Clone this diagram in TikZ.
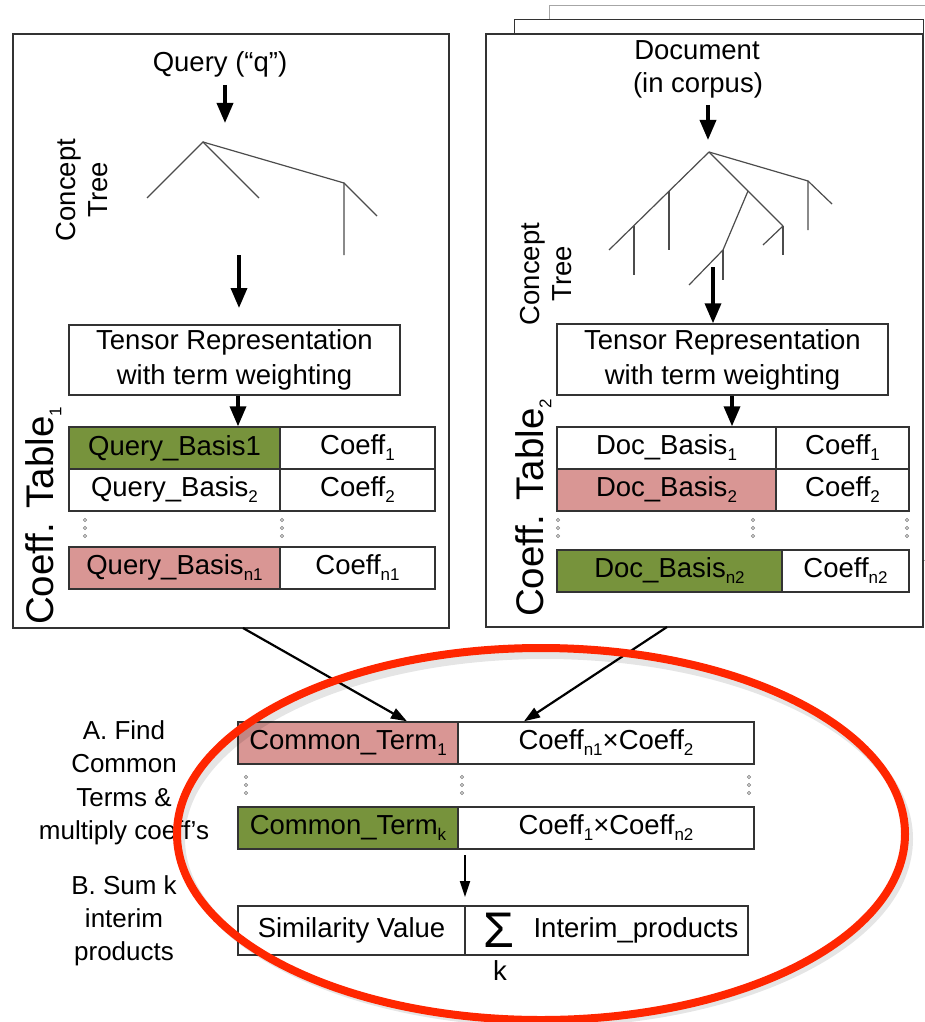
\documentclass[tikz,border=0pt]{standalone}
\usepackage{fontspec}
\setmainfont{Liberation Sans}
\usetikzlibrary{arrows.meta}
\definecolor{cellgreen}{HTML}{77933C}
\definecolor{cellpink}{HTML}{D99694}
\definecolor{ringred}{RGB}{255,38,0}
\definecolor{edgegray}{HTML}{333333}
% small lowered index used in the table cells
\newcommand{\sbs}[1]{\raisebox{-0.22em}{\fontsize{17}{17}\selectfont #1}}
\begin{document}
\begin{tikzpicture}[x=1pt,y=-1pt,
  font=\fontsize{27.5}{33}\selectfont,
  panel/.style={draw=edgegray, line width=1.5, fill=white},
  backpage/.style={draw=gray!70, line width=1, fill=white},
  cell/.style={draw=edgegray, line width=1.4, inner sep=0, anchor=center},
  label/.style={inner sep=0, anchor=base},
  flow/.style={-{Triangle[length=20,width=16]}, line width=3.5},
  link/.style={-{Triangle[length=16,width=11]}, line width=2.2},
  sumflow/.style={-{Triangle[length=16,width=10]}, line width=1.8},
  branch/.style={line width=1.2, draw=black!70},
  dotc/.style={draw=gray, line width=0.7},
  ring/.style={draw=ringred, line width=8}]
\useasboundingbox (0,0) rectangle (925,1022);
\fill[white] (0,0) rectangle (925,1022);

% ---------- stacked document pages ----------
\draw[backpage] (549,6) -- (940,6) -- (940,560) -- (549,560) -- cycle;
\draw[backpage, draw=edgegray] (514,20) -- (923,20) -- (923,590) -- (514,590) -- cycle;
\node[panel, minimum width=437, minimum height=593, inner sep=0] (rp) at (704.5,330.5) {};

% ---------- query panel ----------
\node[panel, minimum width=436, minimum height=594, inner sep=0] (lp) at (231,331) {};

% ---------- query side ----------
\node[label] (q) at (220,72) {Query (“q”)};
\coordinate (q1) at (225,85);
\coordinate (q2) at (225,123);
\draw[flow] (q1) -- (q2);

\coordinate (lr) at (203,142);
\draw[branch] (147,198) -- (lr) -- (259,198);
\draw[branch] (lr) -- (344,183) -- (344,255);
\draw[branch] (344,183) -- (377,216);

\node[rotate=90, align=center, font=\fontsize{27.5}{32}\selectfont] (lct) at (82,190) {Concept\\Tree};

\coordinate (la1) at (239,255);
\coordinate (la2) at (239,308);
\draw[flow] (la1) -- (la2);

\node[cell, minimum width=331, minimum height=70, align=center,
      font=\fontsize{27.5}{35}\selectfont] (tl) at (234.5,360)
      {Tensor Representation\\with term weighting};

\node[cell, fill=cellgreen, minimum width=211, minimum height=42] (qb1) at (174.5,448) {Query\_Basis1};
\node[cell, minimum width=155, minimum height=42] (qc1) at (357.5,448) {Coeff\sbs{1}};
\node[cell, minimum width=211, minimum height=42] (qb2) at (174.5,490) {Query\_Basis\sbs{2}};
\node[cell, minimum width=155, minimum height=42] (qc2) at (357.5,490) {Coeff\sbs{2}};
\node[cell, fill=cellpink, minimum width=211, minimum height=42] (qbn) at (174.5,568) {Query\_Basis\sbs{n1}};
\node[cell, minimum width=155, minimum height=42] (qcn) at (357.5,568) {Coeff\sbs{n1}};
\foreach \x in {85,282} \foreach \y in {520,528,536} \draw[dotc] (\x,\y) circle[radius=1.6];

\coordinate (ta) at (238,0);
\draw[flow] (tl.south -| ta) -- (qb1.north -| ta);

\node[rotate=90, anchor=base west, inner sep=0, font=\fontsize{38.5}{40}\selectfont] (lct1) at (53,625) {Coeff. Table\sbs{1}};

% ---------- document side ----------
\node[label] (d1) at (697,60) {Document};
\node[label] (d2) at (698,93) {(in corpus)};
\coordinate (d3) at (708,105);
\coordinate (d4) at (708,140);
\draw[flow] (d3) -- (d4);

\coordinate (rr) at (709,152);
\draw[branch] (rr) -- (609,250);
\draw[branch] (669,191) -- (669,250);
\draw[branch] (634,225.5) -- (634,275);
\draw[branch] (rr) -- (783,226);
\draw[branch] (748,191) -- (723,250) -- (689,285);
\draw[branch] (723,250) -- (723,280);
\draw[branch] (783,226) -- (763,245);
\draw[branch] (783,226) -- (783,255);
\draw[branch] (rr) -- (808,181) -- (808,230);
\draw[branch] (808,181) -- (832,204);

\node[rotate=90, align=center, font=\fontsize{27.5}{32}\selectfont] (rct) at (546,274) {Concept\\Tree};

\coordinate (ra1) at (713,267);
\node[cell, minimum width=331, minimum height=71, align=center,
      font=\fontsize{27.5}{35}\selectfont] (tr) at (722.5,359.5)
      {Tensor Representation\\with term weighting};
\draw[flow] (ra1) -- (tr.north -| ra1);

\node[cell, minimum width=219, minimum height=42] (db1) at (666.5,448) {Doc\_Basis\sbs{1}};
\node[cell, minimum width=133, minimum height=42] (dc1) at (842.5,448) {Coeff\sbs{1}};
\node[cell, fill=cellpink, minimum width=219, minimum height=42] (db2) at (666.5,490) {Doc\_Basis\sbs{2}};
\node[cell, minimum width=133, minimum height=42] (dc2) at (842.5,490) {Coeff\sbs{2}};
\node[cell, fill=cellgreen, minimum width=225, minimum height=42] (dbn) at (669.5,571) {Doc\_Basis\sbs{n2}};
\node[cell, minimum width=127, minimum height=42] (dcn) at (845.5,571) {Coeff\sbs{n2}};
\foreach \x in {558,753,907} \foreach \y in {520,528,536} \draw[dotc] (\x,\y) circle[radius=1.6];

\coordinate (tb) at (732,0);
\draw[flow] (tr.south -| tb) -- (db1.north -| tb);

\node[rotate=90, anchor=base west, inner sep=0, font=\fontsize{38.5}{40}\selectfont] (rct1) at (543,617) {Coeff. Table\sbs{2}};

% ---------- common terms ----------
\node[cell, fill=cellpink, minimum width=220, minimum height=42] (ct1) at (348,743) {Common\_Term\sbs{1}};
\node[cell, minimum width=296, minimum height=42] (cp1) at (606,743) {Coeff\sbs{n1}×Coeff\sbs{2}};
\node[cell, fill=cellgreen, minimum width=220, minimum height=42] (ctk) at (348,828) {Common\_Term\sbs{k}};
\node[cell, minimum width=296, minimum height=42] (cpk) at (606,828) {Coeff\sbs{1}×Coeff\sbs{n2}};
\foreach \x in {246,462,749} \foreach \y in {777,785,793} \draw[dotc] (\x,\y) circle[radius=1.6];

\coordinate (lo) at (243,628);
\coordinate (lt) at (407,0);
\draw[link] (lo) -- (ct1.north -| lt);
\coordinate (ro) at (667,627);
\coordinate (rt) at (524,0);
\draw[link] (ro) -- (cp1.north -| rt);

\node[align=center, font=\fontsize{26}{33.5}\selectfont] (stepa) at (124,783)
  {A. Find\\Common\\Terms \&\\multiply coeff’s};

% ---------- similarity ----------
\node[cell, minimum width=227, minimum height=49] (sv) at (351.5,930.5) {Similarity Value};
\node[cell, minimum width=283, minimum height=49] (sp) at (606.5,930.5) {};
\node[inner sep=0, font=\fontsize{50}{50}\selectfont] (sig) at (499,930) {Σ};
\node[label] (kk) at (500,980) {k};
\node[inner sep=0] (ip) at (636,930) {Interim\_products};

\coordinate (s1) at (465,855);
\coordinate (s2) at (465,897);
\draw[sumflow] (s1) -- (s2);

\node[align=center, font=\fontsize{26}{33}\selectfont] (stepb) at (124,921)
  {B. Sum k\\interim\\products};

% ---------- highlight ring ----------
\draw[line width=8, draw=black, opacity=0.10] (545,839) ellipse[x radius=364, y radius=184];
\draw[ring] (541,834) ellipse[x radius=364, y radius=186];
\end{tikzpicture}
\end{document}
